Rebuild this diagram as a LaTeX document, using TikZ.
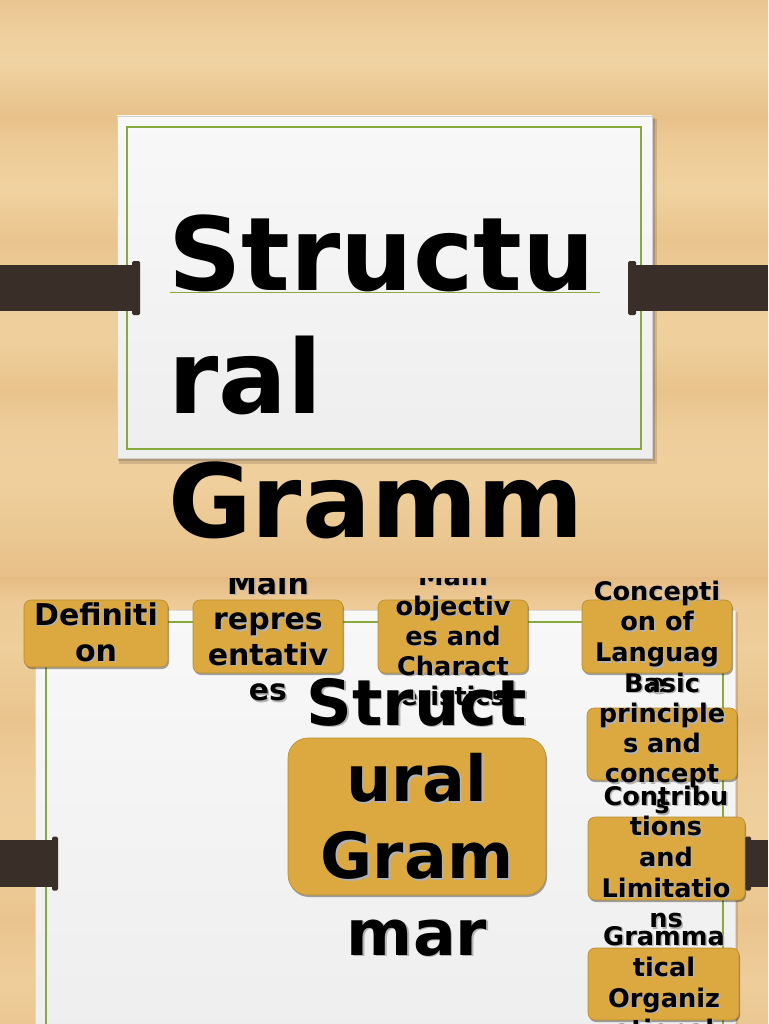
\documentclass[tikz,border=0pt]{standalone}
\usepackage{fontspec}
\setmainfont{DejaVu Sans}
\usetikzlibrary{shadows}
\definecolor{gold}{HTML}{DBA93F}
\definecolor{goldedge}{HTML}{B88D30}
\definecolor{barc}{HTML}{3A2F28}
\definecolor{grn}{HTML}{86AA3E}
\definecolor{cardtop}{HTML}{F8F8F8}
\definecolor{cardbot}{HTML}{EEEEEE}
\definecolor{wa}{HTML}{E9C590}
\definecolor{wb}{HTML}{EECD9B}
\definecolor{wc}{HTML}{F0D3A3}
\definecolor{wd}{HTML}{EBC892}
\definecolor{we}{HTML}{E8C089}
\definecolor{wf}{HTML}{EDCA95}
\definecolor{wg}{HTML}{F0D2A0}
\definecolor{wh}{HTML}{EAC48D}
\definecolor{wi}{HTML}{EFD09D}
\definecolor{wj}{HTML}{E9C38B}
\definecolor{wk}{HTML}{E8BF88}
\definecolor{wl}{HTML}{E6BB83}
\definecolor{wm}{HTML}{EECE9A}
\definecolor{wn}{HTML}{EAC48D}
\newcommand\mlines[1]{\vtop{\halign{\hfil##\hfil\cr#1\crcr}}}
\newcommand\llines[1]{\vtop{\halign{##\hfil\cr#1\crcr}}}
\newcommand\shlines[1]{\rlap{\kern1.5pt\raisebox{-1.8pt}{\color{black!30}\mlines{#1}}}\mlines{#1}}
\newcommand\shtext[6]{%
  \node[txt] (#1) at (#2,#3) {\fontsize{#4}{#5}\selectfont\shlines{#6}};}
\tikzset{
  txt/.style={inner sep=0pt, anchor=base, font=\bfseries, text=black},
  goldbox/.style={rectangle, rounded corners=7pt, fill=gold, draw=goldedge, line width=0.6pt, inner sep=0pt,
    drop shadow={shadow xshift=1pt, shadow yshift=-2pt, opacity=.35, fill=black}},
  barfill/.style={fill=barc},
  greenframe/.style={draw=grn, line width=1.3pt},
}
\begin{document}
\begin{tikzpicture}[x=1pt,y=-1pt]
\useasboundingbox (0,0) rectangle (768,1024);
% wood background
\foreach \ya/\ca/\yb/\cb in {0/wa/25/wb, 25/wb/60/wc, 60/wc/95/wd, 95/wd/118/we, 118/we/140/wf, 140/wf/190/wg,
  190/wg/240/wh, 240/wh/290/wb, 290/wb/340/wi, 340/wi/390/wj, 390/wj/430/wb, 430/wb/480/wi, 480/wi/530/wd,
  530/wd/575/wk, 575/wk/578/wl, 578/wl/600/wf, 600/wf/650/wm, 650/wm/720/wn, 720/wn/780/wb, 780/wb/850/wi,
  850/wi/920/wh, 920/wh/980/wb, 980/wb/1024/wd}
  \fill[top color=\ca, bottom color=\cb, draw=none] (0,\ya-0.3) rectangle (768,\yb+0.3);
% ---- top slide card
\fill[black, opacity=.12] (119,119) rectangle (657,464);
\fill[black, opacity=.15] (118,118) rectangle (655,461);
\draw[black!18, line width=0.5pt, top color=cardtop, bottom color=cardbot] (117,116) rectangle (652,458);
\draw[greenframe] (127,127) rectangle (641,449);
\draw[grn, line width=0.8pt] (170,292) -- (600,292);
% bars
\fill[barfill] (0,265) rectangle (136,311);
\fill[barfill, rounded corners=1.5pt] (132,261) rectangle (140,315);
\fill[barfill] (632,265) rectangle (768,311);
\fill[barfill, rounded corners=1.5pt] (628,261) rectangle (636,315);
% title
\node[txt, anchor=base west] (title) at (168,290) {\fontsize{102}{123.5}\selectfont\llines{Structu\cr ral\cr Gramm}};
% ---- bottom slide
\begin{scope}
\clip (0,578) rectangle (768,1024);
\fill[black, opacity=.12] (36,612) rectangle (738,1030);
\draw[black!15, line width=0.5pt, top color=cardtop, bottom color=cardbot] (35,610) rectangle (735,1040);
\draw[greenframe] (46,622) rectangle (723,1050);
\fill[barfill] (0,840) rectangle (55,887);
\fill[barfill, rounded corners=1.5pt] (52,836.5) rectangle (58,890.5);
\fill[barfill] (749,840) rectangle (768,887);
\fill[barfill, rounded corners=1.5pt] (745,836.5) rectangle (751,890.5);
% boxes
\node[goldbox, minimum width=144pt, minimum height=67pt] (b1) at (96,633.5) {};
\node[goldbox, minimum width=150pt, minimum height=73pt] (b2) at (268,636.5) {};
\node[goldbox, minimum width=150pt, minimum height=73pt] (b3) at (453,636.5) {};
\node[goldbox, minimum width=150pt, minimum height=73pt] (b4) at (657,636.5) {};
\node[goldbox, minimum width=150pt, minimum height=72pt] (b5) at (662,744) {};
\node[goldbox, minimum width=157pt, minimum height=83pt] (b6) at (666.5,858.5) {};
\node[goldbox, minimum width=151pt, minimum height=72pt] (b7) at (663.5,984) {};
\node[goldbox, rounded corners=20pt, minimum width=258pt, minimum height=157pt] (big) at (417,816.5) {};
% texts
\shtext{t1}{96}{625}{30}{36}{Definiti\cr on}
\shtext{t2}{268}{594}{30}{35.5}{Main\cr repres\cr entativ\cr es}
\shtext{t3}{453}{585}{25.6}{30}{Main\cr objectiv\cr es and\cr Charact\cr eristics}
\shtext{t4}{657}{600}{25.6}{30.8}{Concepti\cr on of\cr Languag\cr e}
\shtext{t5}{662}{692}{25.6}{30.3}{Basic\cr principle\cr s and\cr concept\cr s}
\shtext{t6}{666}{805}{25.6}{30.7}{Contribu\cr tions\cr and\cr Limitatio\cr ns}
\shtext{t7}{664}{945}{25.6}{31}{Gramma\cr tical\cr Organiz\cr ational}
\shtext{tbig}{417}{725}{63.5}{76.7}{Struct\cr ural\cr Gram\cr mar}
\end{scope}
\end{tikzpicture}
\end{document}
